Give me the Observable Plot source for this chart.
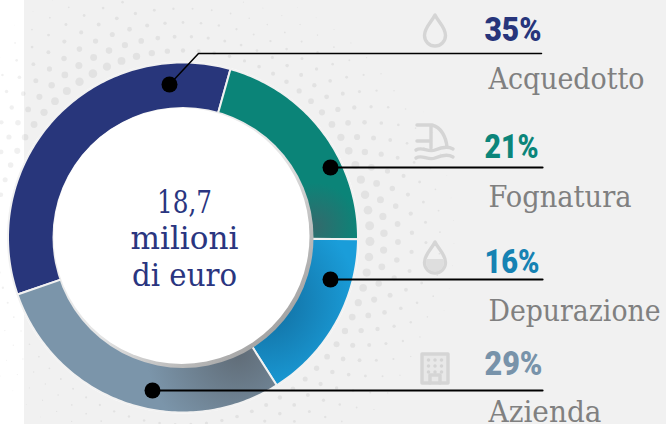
<!DOCTYPE html>
<html><head><meta charset="utf-8">
<script src="https://cdn.jsdelivr.net/npm/d3@7"></script>
<script src="https://cdn.jsdelivr.net/npm/@observablehq/plot@0.6"></script>
<style>html,body{margin:0;padding:0;background:#fff;overflow:hidden}svg{display:block}</style>
</head><body><div id="chart"></div>
<script>
// Data
const categories = ["Acquedotto", "Fognatura", "Depurazione", "Azienda"];
const shares = [35, 21, 16, 29];
const shareLabels = ["35%", "21%", "16%", "29%"];
const centerLines = ["18,7", "milioni", "di euro"];
const textColors = ["#27357b", "#0b857a", "#1682b3", "#7893aa"];
const sliceFills = ["#28367b", "url(#gTeal)", "url(#gBlue)", "url(#gGrey)"];

// Layout
const W = 666, H = 424, cx = 182.5, cy = 237, R = 175, r0 = 130, startDeg = 251;
const pctY = [40, 157, 272, 374], nameY = [88, 206, 320, 421], centerY = [212, 248, 285];
const pctWidths = [57, 54, 55, 58], nameWidths = [156, 143, 172, 113], centerWidths = [55, 108, 105];
const leaders = [
  [[169, 84], [198, 53], [541, 53]],
  [[330, 167], [542, 167]],
  [[330, 279], [542, 279]],
  [[152, 390], [542, 390]]
];
const leaderWidths = [1.5, 2.2, 2.2, 2.2];
// halftone strength by bearing (degrees clockwise from top)
const haloBearing = [0, 20, 60, 90, 120, 150, 180, 240, 270, 300, 330, 345, 360];
const haloSize = [2.2, 1.6, 3.8, 4.6, 3.2, 2.2, 1.4, 0.8, 1.6, 3.2, 4.4, 3.8, 2.2];

const pt = (deg, rad) => {
  const a = deg * Math.PI / 180;
  return {x: cx + rad * Math.sin(a), y: cy - rad * Math.cos(a)};
};

// slices through the values
const total = d3.sum(shares);
let acc = startDeg;
const sliceMarks = shares.map((v, i) => {
  const a0 = acc, a1 = acc + v / total * 360; acc = a1;
  const outer = d3.range(a0, a1, 1).concat(a1).map(a => pt(a, R));
  const inner = d3.range(a1, a0, -1).concat(a0).map(a => pt(a, r0 - 3));
  const poly = [...outer, ...inner, outer[0]];
  return Plot.line(poly, {x: "x", y: "y", fill: sliceFills[i], stroke: "#f1f1f1", strokeWidth: 2});
});

// background halftone decoration
const sizeAt = d3.scaleLinear().domain(haloBearing).range(haloSize);
const halo = [];
d3.range(7).forEach(ring => {
  const rad = 187 + ring * 14;
  d3.range(0, 360, 4.8).forEach(b0 => {
    const b = (b0 + (ring % 2) * 2.4) % 360;
    const s = sizeAt(b) * Math.pow(1 - ring / 7.5, 1.4);
    const p = pt(b, rad);
    if (s > 0.4) halo.push({x: p.x, y: p.y, s});
  });
});

const defs = () => {
  const g = d3.create("svg:defs");
  g.html(`
   <radialGradient id="gTeal" gradientUnits="userSpaceOnUse" cx="314" cy="226" r="44">
     <stop offset="0" stop-color="#336a6c"/><stop offset="1" stop-color="#0b8478"/></radialGradient>
   <radialGradient id="gBlue" gradientUnits="userSpaceOnUse" cx="262" cy="300" r="95">
     <stop offset="0" stop-color="#11699a"/><stop offset="1" stop-color="#1a9dd9"/></radialGradient>
   <radialGradient id="gGrey" gradientUnits="userSpaceOnUse" cx="238" cy="352" r="92">
     <stop offset="0" stop-color="#606c77"/><stop offset="1" stop-color="#7b95aa"/></radialGradient>
   <linearGradient id="gDisc" gradientUnits="userSpaceOnUse" x1="90" y1="145" x2="275" y2="330">
     <stop offset="0" stop-color="#f4f4f4"/><stop offset=".55" stop-color="#e4e4e4"/><stop offset="1" stop-color="#a4a4a4"/></linearGradient>`);
  return g.node();
};

// pictograms
const icons = () => {
  const g = d3.create("svg:g").attr("fill", "none").attr("stroke", "#d5d5d5").attr("stroke-width", 3.4).attr("stroke-linecap", "round").attr("stroke-linejoin", "round");
  g.append("path").attr("d", "M435 15C431 23 424.5 27 424.5 35.5a10.5 10.5 0 0 0 21 0C445.5 27 439 23 435 15Z");
  g.append("path").attr("d", "M417 125H431M417 141H431M431 125V148M432 125C441 127 446 137 447 147");
  g.append("path").attr("d", "M416 150C422 146 428 153 435 150S448 146 453 149M416 158C422 154 428 161 435 158S448 154 453 157");
  g.append("path").attr("d", "M435 242C431 250 424.5 254 424.5 262.5a10.5 10.5 0 0 0 21 0C445.5 254 439 250 435 242Z");
  g.append("path").attr("d", "M426 259H444V262a9 10 0 0 1-18 0Z").attr("fill", "#dedede").attr("stroke", "none");
  g.append("path").attr("d", "M422 354H448V383H422Z").attr("fill", "#e8e8e8");
  g.append("path").attr("d", "M430 383V375H440V383");
  const w = g.append("g").attr("fill", "#d4d4d4").attr("stroke", "none");
  [428.5, 435, 441.5].forEach(x => [360, 366, 372].forEach(y => w.append("circle").attr("cx", x).attr("cy", y).attr("r", 1.8)));
  return g.node();
};

const slab = "'DejaVu Serif',serif";
const slabNarrow = "'DejaVu Serif Condensed','DejaVu Serif',serif";
const table = categories.map((name, i) => ({name, pct: shareLabels[i], color: textColors[i], py: pctY[i], ny: nameY[i]}));
const center = centerLines.map((t, i) => ({t, y: centerY[i]}));

const chart = Plot.plot({
  width: W, height: H, margin: 0,
  x: {domain: [0, W], range: [0, W], axis: null},
  y: {domain: [0, H], range: [0, H], axis: null},
  r: {type: "identity"},
  style: {background: "#fff"},
  marks: [
    defs,
    Plot.rect([0], {x1: () => 24, x2: () => W, y1: () => 0, y2: () => H, fill: "#f1f1f1"}),
    Plot.dot(halo, {x: "x", y: "y", r: "s", fill: "#000", fillOpacity: 0.06}),
    Plot.dot([0], {x: () => cx, y: () => cy, r: () => R + 1.2, fill: "#fff"}),
    ...sliceMarks,
    Plot.dot([0], {x: () => cx, y: () => cy, r: () => r0 + 0.5, fill: "url(#gDisc)"}),
    Plot.dot([0], {x: () => cx - 1.5, y: () => cy - 1.5, r: () => r0 - 2, fill: "#fff"}),
    icons,
    ...leaders.map((l, i) => Plot.line(l, {x: d => d[0], y: d => d[1], stroke: "#000", strokeWidth: leaderWidths[i]})),
    Plot.dot(leaders.map(l => l[0]), {x: d => d[0], y: d => d[1], r: () => 8, fill: "#000"}),
    Plot.text(center, {x: () => 184, y: "y", text: "t", fill: "#2a3580", fontSize: 32, fontFamily: slab, lineAnchor: "bottom"}),
    Plot.text(table, {x: () => 484, y: "py", text: "pct", fill: "color", fontSize: 33, fontWeight: 900, fontFamily: "Roboto", textAnchor: "start", lineAnchor: "bottom"}),
    Plot.text(table, {x: () => 488, y: "ny", text: "name", fill: "#808080", fontSize: 29, fontFamily: slabNarrow, textAnchor: "start", lineAnchor: "bottom"})
  ]
});
// fit the substitute fonts to the widths seen in the reference
const groups = chart.querySelectorAll('g[aria-label="text"]');
[centerWidths, pctWidths, nameWidths].forEach((ws, k) => {
  groups[k].querySelectorAll("text").forEach((t, i) => {
    t.setAttribute("textLength", ws[i]);
    t.setAttribute("lengthAdjust", "spacingAndGlyphs");
  });
});
document.getElementById("chart").append(chart);
</script></body></html>
